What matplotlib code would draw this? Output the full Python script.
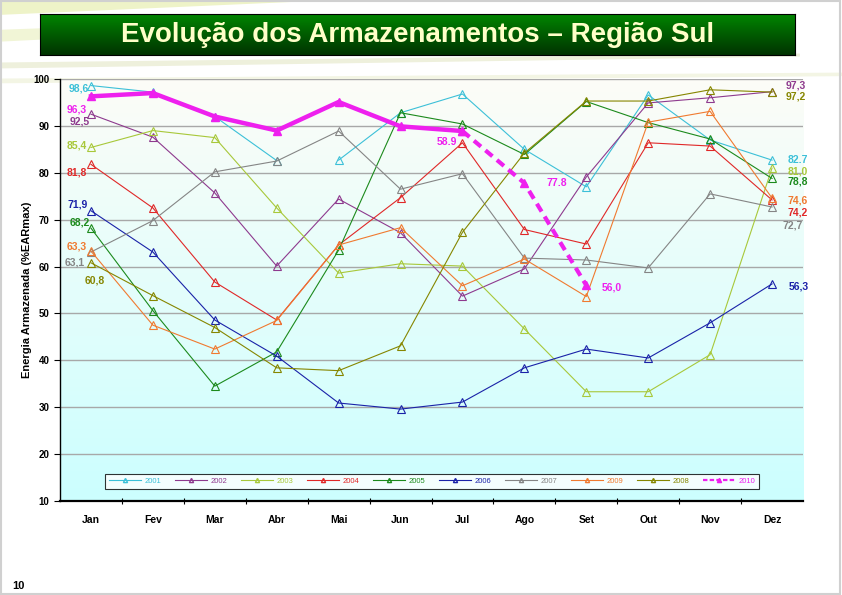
import numpy as np
import matplotlib
matplotlib.use("Agg")
import matplotlib.pyplot as plt
from matplotlib.lines import Line2D
from matplotlib.patches import Polygon, Rectangle

plt.rcParams['font.family'] = ['Liberation Sans', 'DejaVu Sans']

# data
months = ["Jan", "Fev", "Mar", "Abr", "Mai", "Jun", "Jul", "Ago", "Set", "Out", "Nov", "Dez"]
y2001 = [98.6, 97.2, 92.0, 82.6, 82.7, 92.8, 96.8, 85.0, 77.0, 96.6, 87.0, 82.7]
y2002 = [92.5, 87.6, 75.7, 60.1, 74.4, 67.2, 53.7, 59.5, 79.1, 94.9, 96.0, 97.3]
y2003 = [85.4, 89.0, 87.5, 72.5, 58.6, 60.6, 60.1, 46.7, 33.3, 33.3, 41.2, 81.0]
y2004 = [81.8, 72.5, 56.7, 48.6, 64.6, 74.7, 86.4, 67.9, 64.8, 86.4, 85.7, 74.2]
y2005 = [68.2, 50.6, 34.5, 41.8, 63.5, 92.8, 90.4, 83.9, 95.2, 90.7, 87.2, 78.8]
y2006 = [71.9, 63.1, 48.6, 40.9, 30.9, 29.6, 31.1, 38.4, 42.4, 40.5, 48.0, 56.3]
y2007 = [63.1, 69.8, 80.2, 82.5, 88.9, 76.5, 79.8, 61.8, 61.4, 59.7, 75.5, 72.7]
y2008 = [60.8, 53.8, 47.0, 38.4, 37.8, 43.1, 67.3, 84.2, 95.3, 95.3, 97.7, 97.2]
y2009 = [63.3, 47.5, 42.4, 48.5, 64.6, 68.3, 55.9, 61.6, 53.6, 90.8, 93.1, 74.6]
y2010_real = [96.3, 97.0, 92.0, 89.0, 95.1, 89.9, 88.9]
y2010_prev = [88.9, 77.8, 56.0]

colors = {"2001": "#3cc0d8", "2002": "#8e3a8e", "2003": "#a8c83a", "2004": "#e02828",
          "2005": "#1c8a1c", "2006": "#1a22a8", "2007": "#858585", "2008": "#868600",
          "2009": "#f07a30", "2010": "#ee20ee"}

series = {"2001": y2001, "2002": y2002, "2003": y2003, "2004": y2004, "2005": y2005,
          "2006": y2006, "2007": y2007, "2008": y2008, "2009": y2009}
order = ["2001", "2002", "2003", "2004", "2005", "2006", "2007", "2009", "2008"]

fig = plt.figure(figsize=(8.42, 5.95), dpi=100)
fig.patch.set_facecolor("white")

# decorative background streaks
for pts, c in [([(0, 0.975), (0.40, 1.0), (0.0, 1.0)], "#eef3c8"),
               ([(0, 0.93), (0.5, 0.965), (0.5, 0.975), (0, 0.95)], "#f1f5d6"),
               ([(0, 0.885), (0.95, 0.905), (0.95, 0.91), (0, 0.895)], "#eef0dc"),
               ([(0.0, 0.86), (1.0, 0.872), (1.0, 0.878), (0.0, 0.868)], "#f3f5e4")]:
    fig.patches.append(Polygon(pts, closed=True, transform=fig.transFigure,
                               facecolor=c, edgecolor="none", zorder=-5))
fig.patches.append(Rectangle((0.001, 0.001), 0.997, 0.997, transform=fig.transFigure,
                             facecolor="none", edgecolor="#d0d0d0", lw=1.5))

# title banner
tax = fig.add_axes([40 / 842, 1 - 55 / 595, 755 / 842, 41 / 595])
grad = np.linspace(0, 1, 64).reshape(-1, 1)
top = np.array([0.0, 0.52, 0.0])
bot = np.array([0.0, 0.20, 0.0])
img = top + (bot - top) * grad[..., None]
tax.imshow(img, aspect="auto", extent=[0, 1, 0, 1])
tax.set_xlim(0, 1)
tax.set_ylim(0, 1)
tax.set_xticks([])
tax.set_yticks([])
for s in tax.spines.values():
    s.set_color("black")
    s.set_linewidth(0.8)
tax.text(0.5, 0.5, "Evolução dos Armazenamentos – Região Sul", color="#ffffc8",
         fontsize=20, fontweight="bold", ha="center", va="center")

# main chart
ax = fig.add_axes([60 / 842, 1 - 501 / 595, 743 / 842, 422 / 595])
bg = np.linspace(0, 1, 100).reshape(-1, 1)
ctop = np.array([0.99, 0.99, 0.97])
cbot = np.array([0.80, 1.0, 1.0])
bgimg = ctop + (cbot - ctop) * bg[..., None]
ax.imshow(bgimg, aspect="auto", extent=[-0.5, 11.5, 10, 100], zorder=0)

x = np.arange(len(months))
for name in order:
    vals = series[name]
    c = colors[name]
    kw = dict(color=c, lw=0.8, marker="^", ms=6, mfc="none", mec=c, mew=0.8, zorder=3)
    if name == "2001":
        # 2001 has a break between Abr and Mai
        ax.plot(x[:4], vals[:4], **kw)
        ax.plot(x[4:], vals[4:], **kw)
    else:
        ax.plot(x, vals, **kw)

c10 = colors["2010"]
ax.plot(x[:7], y2010_real, color=c10, lw=3.2, marker="^", ms=6, mfc=c10, mec=c10, zorder=5)
ax.plot(x[6:9], y2010_prev, color=c10, lw=3.0, ls=(0, (2.2, 1.4)), marker="^", ms=6,
        mfc=c10, mec=c10, zorder=5)

ax.set_xlim(-0.5, 11.5)
ax.set_ylim(10, 100)
ax.set_yticks(np.arange(10, 101, 10))
ax.yaxis.grid(True, color="#a8a8a8", lw=1.0)
for gl in ax.get_ygridlines():
    gl.set_zorder(1)
ax.set_xticks(x)
ax.set_xticklabels(months, fontsize=7.5, fontweight="bold")
ax.set_xticks(np.arange(0.5, 11, 1), minor=True)
ax.tick_params(axis="x", which="major", length=0, pad=10)
ax.tick_params(axis="x", which="minor", length=4, direction="inout", width=0.8)
ax.tick_params(axis="y", length=4, direction="out", labelsize=7, width=0.8)
for t in ax.get_yticklabels():
    t.set_fontweight("bold")
for s in ["top", "right"]:
    ax.spines[s].set_visible(False)
ax.spines["bottom"].set_linewidth(1.6)
ax.spines["left"].set_linewidth(1.0)
ax.set_ylabel("Energia Armazenada (%EARmax)", fontsize=8, fontweight="bold", labelpad=1)

# value labels
def lab(text, xi, val, dx, dy, color):
    ax.annotate(text, (xi, val), xytext=(dx, dy), textcoords="offset pixels",
                ha="center", va="center", fontsize=7.5, fontweight="bold", color=color, zorder=6)

lab("98,6", 0, y2001[0], -12, -3, colors["2001"])
lab("96,3", 0, y2010_real[0], -14, -13, colors["2010"])
lab("92,5", 0, y2002[0], -11, -7, colors["2002"])
lab("85,4", 0, y2003[0], -14, 2, colors["2003"])
lab("81,8", 0, y2004[0], -14, -8, colors["2004"])
lab("71,9", 0, y2006[0], -13, 6, colors["2006"])
lab("68,2", 0, y2005[0], -11, 6, colors["2005"])
lab("63,3", 0, y2009[0], -14, 5, colors["2009"])
lab("63,1", 0, y2007[0], -16, -10, colors["2007"])
lab("60,8", 0, y2008[0], 4, -18, colors["2008"])

lab("97,3", 11, y2002[11], 24, 6, colors["2002"])
lab("97,2", 11, y2008[11], 24, -4, colors["2008"])
lab("82.7", 11, y2001[11], 26, 0, colors["2001"])
lab("81,0", 11, y2003[11], 26, -3, colors["2003"])
lab("78,8", 11, y2005[11], 26, -3, colors["2005"])
lab("74,6", 11, y2009[11], 26, -2, colors["2009"])
lab("74,2", 11, y2004[11], 26, -13, colors["2004"])
lab("72,7", 11, y2007[11], 21, -18, colors["2007"])
lab("56,3", 11, y2006[11], 27, -3, colors["2006"])

lab("58.9", 6, y2010_prev[0], -16, -11, colors["2010"])
lab("77.8", 7, y2010_prev[1], 32, 0, colors["2010"])
lab("56,0", 8, y2010_prev[2], 25, -2, colors["2010"])

# legend
handles = []
labels = []
for name in order:
    c = colors[name]
    handles.append(Line2D([], [], color=c, lw=0.8, marker="^", ms=3, mfc="none", mec=c))
    labels.append(name)
handles.append(Line2D([], [], color=c10, lw=1.6, ls=(0, (2, 1)), marker="^", ms=3, mfc=c10, mec=c10))
labels.append("2010")
leg = ax.legend(handles, labels, loc="center", bbox_to_anchor=(0.5008, 0.047), ncol=10,
                fontsize=5.5, frameon=True, fancybox=False, handlelength=4.2,
                columnspacing=1.75, handletextpad=0.5, borderpad=0.5)
leg.get_frame().set_edgecolor("black")
leg.get_frame().set_linewidth(0.8)
leg.set_zorder(7)
for t, name in zip(leg.get_texts(), labels):
    t.set_color(colors[name])

fig.text(12 / 842, 1 - 586 / 595, "10", fontsize=8, fontweight="bold", ha="left", va="center")

fig.savefig("out.png", dpi=100)
